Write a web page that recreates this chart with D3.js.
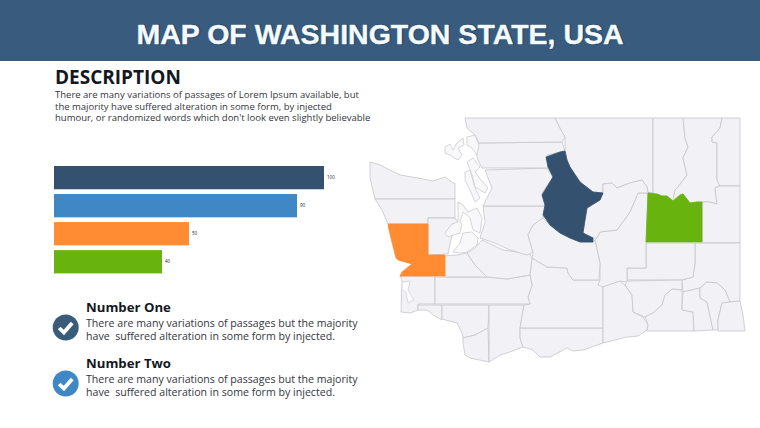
<!DOCTYPE html>
<html>
<head>
<meta charset="utf-8">
<script src="https://cdnjs.cloudflare.com/ajax/libs/d3/7.8.5/d3.min.js"></script>
<style>
  html, body { margin: 0; padding: 0; background: #fff; }
  svg { display: block; }
  text { font-family: "Open Sans", sans-serif; white-space: pre; }
</style>
</head>
<body>
<svg id="slide" width="760" height="428"></svg>
<script>
// bars
const barLabels = ['100', '90', '50', '40'];
const barValues = [100, 90, 50, 40];
const barColors = ['#34526f', '#3f88c5', '#ff8c33', '#69b30f'];

// texts
const titleText = 'MAP OF WASHINGTON STATE, USA';
const descLines = [
  'There are many variations of passages of Lorem Ipsum available, but',
  'the majority have suffered alteration in some form, by injected',
  "humour, or randomized words which don't look even slightly believable"
];
const noteTitles = ['Number One', 'Number Two'];
const noteLines = [
  'There are many variations of passages but the majority',
  'have  suffered alteration in some form by injected.'
];
const noteColors = ['#3b5b7b', '#3f88c5'];

// county outlines
const countyNames = ['Clallam', 'Jefferson', 'Pacific', 'Wahkiakum', 'Cowlitz', 'Clark', 'Skamania', 'Klickitat',
  'Yakima', 'Lewis', 'Thurston', 'Mason', 'Pierce', 'King', 'Snohomish', 'Skagit', 'Whatcom', 'Okanogan', 'Ferry',
  'Stevens', 'Pend Oreille', 'Spokane', 'Whitman', 'Adams', 'Grant', 'Douglas', 'Kittitas', 'Benton', 'Franklin',
  'Walla Walla', 'Columbia', 'Garfield', 'Asotin', 'Grays Harbor', 'Chelan', 'Lincoln'];
const countyRings = [
  [[370,162],[380,165],[400,175],[418,178],[433,181],[445,177],[453,183],[455,183],[455,199],[375,199],[370,178]],
  [[375,199],[455,199],[455,218],[428,218],[428,224],[388,224],[382,210]],
  [[400,276],[435,276],[435,304],[418,304],[418,310],[410,313],[401,312],[402,280]],
  [[418,305],[442,305],[442,320],[435,316],[427,310],[418,310]],
  [[442,305],[489,305],[488,328],[475,335],[463,338],[462,333],[457,323],[442,319]],
  [[463,338],[475,335],[488,328],[489,362],[470,358],[465,355],[463,343]],
  [[489,305],[524,305],[520,328],[520,338],[523,347],[507,353],[500,355],[489,362]],
  [[520,328],[603,328],[603,343],[583,350],[573,351],[567,348],[550,357],[540,357],[533,350],[523,347],[520,338]],
  [[532,258],[547,267],[567,268],[568,273],[573,280],[600,280],[603,287],[603,328],[520,328],[524,305],[530,304],[528,297],[532,285],[530,275]],
  [[435,277],[487,277],[507,279],[530,275],[532,285],[528,297],[530,304],[435,304]],
  [[443,256],[457,255],[467,253],[475,265],[487,277],[445,277]],
  [[428,218],[455,218],[458,222],[452,235],[448,254],[428,255]],
  [[482,240],[503,250],[530,254],[532,258],[530,275],[507,279],[487,277],[475,265],[467,253],[475,248]],
  [[483,206],[545,206],[543,218],[533,225],[528,235],[533,252],[527,255],[510,250],[495,243],[480,238],[485,222]],
  [[485,170],[547,168],[553,177],[542,193],[545,206],[483,206],[492,188]],
  [[479,143],[562,142],[565,151],[547,155],[548,168],[482,168],[478,160],[475,150]],
  [[465,118],[555,118],[560,128],[565,137],[562,142],[479,143],[475,135],[467,128]],
  [[555,118],[653,118],[653,193],[648,193],[647,187],[642,180],[630,183],[617,188],[612,183],[603,184],[603,193],[593,192],[580,182],[570,167],[567,160],[565,151],[565,137],[560,128]],
  [[653,118],[683,118],[685,138],[688,147],[683,158],[687,175],[678,187],[675,190],[673,201],[667,196],[662,196],[657,194],[648,193],[653,193]],
  [[683,118],[722,118],[720,128],[712,137],[712,142],[717,143],[717,180],[720,185],[715,188],[717,204],[710,202],[702,202],[697,202],[690,203],[683,194],[680,195],[673,201],[675,190],[678,187],[687,175],[683,158],[688,147],[685,138]],
  [[722,118],[740,118],[740,186],[720,186],[717,180],[717,143],[712,142],[712,137],[720,128]],
  [[720,186],[740,186],[740,243],[702,243],[702,202],[710,202],[717,204],[715,188]],
  [[695,243],[740,243],[740,301],[730,302],[725,290],[717,283],[707,282],[700,288],[683,292],[682,280],[693,277],[695,263]],
  [[646,243],[695,243],[695,263],[693,277],[682,280],[627,280],[627,268],[646,268]],
  [[638,193],[648,193],[646,243],[646,268],[627,268],[627,282],[620,281],[603,287],[598,285],[600,280],[600,263],[595,240],[597,238],[600,232],[617,230],[630,212]],
  [[603,184],[612,183],[617,188],[630,183],[642,180],[647,187],[648,193],[638,193],[630,212],[617,230],[600,232],[597,238],[593,238],[583,233],[585,220],[587,208],[600,200],[603,193]],
  [[533,225],[543,218],[550,225],[560,233],[570,238],[580,242],[593,242],[595,240],[600,263],[599,280],[573,280],[568,273],[567,268],[547,267],[532,258],[533,252],[528,235]],
  [[603,287],[620,281],[625,285],[632,295],[633,312],[643,317],[648,325],[647,330],[638,336],[627,337],[603,343]],
  [[627,281],[682,280],[682,290],[672,289],[665,295],[662,305],[653,313],[645,317],[633,312],[632,295],[625,285]],
  [[645,317],[653,313],[662,305],[665,295],[672,289],[682,290],[682,310],[693,312],[694,331],[647,331],[648,325]],
  [[683,292],[700,288],[700,298],[707,302],[713,330],[694,331],[693,312],[682,310]],
  [[700,288],[707,282],[717,283],[725,290],[730,302],[722,303],[718,320],[718,330],[713,330],[707,302],[700,298]],
  [[722,303],[730,302],[740,301],[743,315],[745,331],[718,331],[718,320]],
  [[388,224],[428,224],[428,255],[445,255],[445,276],[400,276],[402,272],[412,264],[398,260],[396,258],[393,246],[389,230]],
  [[546,157],[560,152],[565,151],[567,160],[570,167],[580,182],[593,192],[603,193],[600,200],[587,208],[585,220],[583,233],[593,238],[593,242],[580,242],[570,238],[560,233],[550,225],[543,215],[545,205],[542,195],[553,177],[548,167]],
  [[648,193],[657,194],[662,196],[667,196],[673,201],[680,195],[683,194],[690,203],[697,202],[702,202],[702,242],[646,242]]
];
const highlightNames = ['Grays Harbor', 'Chelan', 'Lincoln'];
const highlightColors = ['#ff8c33', '#34526f', '#69b30f'];

// islands and inlets of the sound
const islandRings = [
  [[445,147],[450,144],[453,150],[457,143],[463,138],[464,145],[458,148],[462,155],[458,160],[450,155],[445,153]],
  [[467,162],[473,158],[480,167],[475,172],[481,180],[488,188],[485,193],[475,187],[472,175]],
  [[465,172],[470,170],[475,188],[480,198],[475,202],[470,190],[465,180]],
  [[467,137],[475,135],[479,145],[477,155],[472,148],[467,145]],
  [[458,202],[463,205],[468,212],[477,208],[482,218],[480,233],[473,230],[470,218],[463,212],[460,222],[462,224],[460,233],[448,237],[445,233],[452,224],[458,222]],
  [[463,233],[472,232],[478,238],[477,245],[467,252],[460,253],[453,252],[460,243]]
];
const inletLines = [
  [[403,282],[410,281],[408,290],[414,300],[408,303],[406,292],[403,290]]
];

const svg = d3.select('#slide');

// header band
svg.append('rect').attr('width', 760).attr('height', 61).attr('fill', '#395b7d');
svg.append('text').attr('x', 380.5).attr('y', 44).attr('text-anchor', 'middle')
  .attr('fill', '#143048').attr('stroke', '#143048').attr('stroke-width', 1.5).attr('opacity', 0.6)
  .style('font-family', '"Liberation Sans"').style('font-weight', 700).style('font-size', '28.5px')
  .text(titleText);
svg.append('text').attr('x', 380).attr('y', 44).attr('text-anchor', 'middle')
  .attr('fill', '#f4fbff').attr('stroke', '#f4fbff').attr('stroke-width', 0.4)
  .style('font-family', '"Liberation Sans"').style('font-weight', 700).style('font-size', '28.5px')
  .text(titleText);

// description
svg.append('text').attr('x', 55).attr('y', 84).attr('fill', '#14181f')
  .style('font-weight', 700).style('font-size', '19px').text('DESCRIPTION');
svg.selectAll('.desc').data(descLines).enter().append('text')
  .attr('class', 'desc').attr('x', 55)
  .attr('y', function(d, i) { return 98 + i * 11.5; })
  .attr('fill', '#33363c').style('font-size', '9.5px')
  .text(function(d) { return d; });

// bar chart
let x = d3.scaleLinear().domain([0, 100]).range([54, 324]);
let y = d3.scaleBand().domain(barLabels).range([166, 273.4]).paddingInner(0.17).paddingOuter(0).align(0);
let bars = svg.append('g');
bars.selectAll('rect').data(barValues).enter().append('rect')
  .attr('x', x(0))
  .attr('y', function(d, i) { return y(barLabels[i]); })
  .attr('width', function(d) { return x(d) - x(0); })
  .attr('height', y.bandwidth())
  .attr('fill', function(d, i) { return barColors[i]; });
bars.selectAll('text').data(barValues).enter().append('text')
  .attr('x', function(d) { return x(d) + 3; })
  .attr('y', function(d, i) { return y(barLabels[i]) + y.bandwidth() / 2 + 1.5; })
  .attr('fill', '#222').style('font-size', '4.5px')
  .text(function(d, i) { return barLabels[i]; });

// notes with check marks
noteTitles.forEach(function(title, i) {
  let top = i * 56;
  svg.append('text').attr('x', 86).attr('y', 312 + top).attr('fill', '#14181f')
    .style('font-weight', 700).style('font-size', '13.2px').text(title);
  noteLines.forEach(function(line, j) {
    svg.append('text').attr('x', 86).attr('y', 327 + top + j * 13).attr('fill', '#33363c')
      .style('font-size', '10.6px').text(line);
  });
  svg.append('circle').attr('cx', 65.7).attr('cy', 327.5 + top).attr('r', 13).attr('fill', noteColors[i]);
  svg.append('path').attr('d', 'M-6.5,0.5 L-1.8,5 L6.5,-4.5').attr('transform', 'translate(65.7,' + (327.5 + top) + ')')
    .attr('fill', 'none').attr('stroke', '#fff').attr('stroke-width', 3.8);
});

// map
let mapX = d3.scaleLinear().domain([369, 745]).range([369, 745]);
let mapY = d3.scaleLinear().domain([117, 363]).range([117, 363]);
let ringPath = d3.line().x(function(d) { return mapX(d[0]); }).y(function(d) { return mapY(d[1]); });
let map = svg.append('g').attr('stroke-linejoin', 'round');

function countyFill(name) {
  let k = highlightNames.indexOf(name);
  return k < 0 ? '#f2f1f5' : highlightColors[k];
}
map.selectAll('.county').data(countyRings).enter().append('path')
  .attr('class', 'county')
  .attr('d', function(d) { return ringPath(d) + 'Z'; })
  .attr('fill', function(d, i) { return countyFill(countyNames[i]); })
  .attr('stroke', function(d, i) {
    return highlightNames.indexOf(countyNames[i]) < 0 ? '#c6c5ca' : countyFill(countyNames[i]);
  })
  .attr('stroke-width', 0.8);
map.selectAll('.island').data(islandRings).enter().append('path')
  .attr('class', 'island')
  .attr('d', function(d) { return ringPath(d) + 'Z'; })
  .attr('fill', '#f8f7fa').attr('stroke', '#c6c5ca').attr('stroke-width', 0.7);
map.selectAll('.inlet').data(inletLines).enter().append('path')
  .attr('class', 'inlet')
  .attr('d', function(d) { return ringPath(d); })
  .attr('fill', '#fff').attr('stroke', '#c6c5ca').attr('stroke-width', 0.6);
</script>
</body>
</html>
